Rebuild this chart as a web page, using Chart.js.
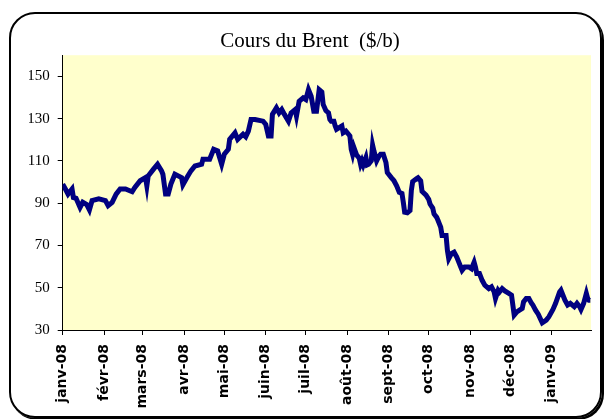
<!DOCTYPE html>
<html>
<head>
<meta charset="utf-8">
<script src="https://cdn.jsdelivr.net/npm/chart.js@4.4.1/dist/chart.umd.min.js"></script>
<style>
  body { margin: 0; background: #fff; }
  #frame {
    position: absolute; left: 9px; top: 12px; width: 593px; height: 406px;
    box-sizing: border-box; border: 2px solid #000; border-radius: 26px;
    box-shadow: 2px 2px 0 0 #000;
  }
  #chart { position: absolute; left: 0; top: 0; }
</style>
</head>
<body>
<div id="frame"></div>
<canvas id="chart" width="604" height="419"></canvas>
<script>
'use strict';

// days since 1 Jan 2008
const dayOffsets = [0, 2, 4, 7, 8, 10, 13, 15, 18, 20, 22, 27, 32, 34, 37, 40, 43, 47, 52, 54,
  58, 62, 63, 64, 68, 71, 74, 75, 77, 79, 81, 84, 89, 90, 93, 96, 99, 104, 105, 110,
  113, 116, 119, 121, 124, 125, 129, 131, 135, 137, 139, 141, 144, 150, 152, 154, 156, 157, 160, 162,
  164, 166, 169, 171, 174, 175, 177, 180, 182, 184, 186, 188, 190, 192, 194, 195, 197, 199, 200, 201,
  203, 204, 205, 207, 209, 210, 212, 214, 215, 216, 217, 218, 220, 222, 223, 224, 225, 227, 228, 229,
  231, 232, 233, 235, 236, 237, 238, 240, 242, 243, 246, 248, 250, 252, 254, 255, 256, 258, 260, 261,
  262, 265, 266, 268, 269, 272, 274, 275, 277, 278, 280, 281, 282, 283, 284, 287, 288, 289, 291, 293,
  295, 296, 298, 299, 301, 304, 306, 308, 309, 310, 312, 314, 316, 319, 321, 323, 324, 326, 327, 329,
  331, 334, 336, 338, 340, 342, 344, 345, 347, 349, 351, 352, 354, 356, 359, 362, 364, 367, 369, 372,
  373, 376, 378, 380, 383, 385, 387, 388, 390, 392, 393, 394, 395];

// Brent, $/b
const brentPrices = [99.0, 96.7, 94.3, 96.7, 92.7, 92.3, 88.0, 90.4, 89.3, 86.8, 91.2, 92.0, 91.2, 88.8, 90.4, 94.3, 96.7, 96.7, 95.4, 97.4,
  100.6, 102.1, 98.2, 102.9, 106.1, 108.4, 105.3, 103.7, 94.3, 94.3, 99.0, 103.7, 102.1, 98.7, 102.1, 105.3, 107.6, 108.4, 110.8, 110.8,
  115.5, 114.7, 108.4, 113.2, 115.5, 120.2, 123.3, 120.2, 122.6, 121.4, 124.1, 129.6, 129.6, 128.8, 127.3, 121.8, 121.8, 132.0, 135.1, 132.7,
  134.3, 132.0, 128.8, 132.7, 134.3, 131.2, 138.2, 139.8, 139.0, 143.7, 140.6, 133.5, 133.5, 143.7, 142.6, 136.7, 133.8, 132.7, 129.6, 128.8,
  128.8, 126.5, 124.9, 125.7, 126.5, 123.3, 124.1, 122.6, 121.8, 115.5, 113.2, 116.3, 112.8, 111.3, 108.4, 110.0, 108.1, 111.6, 108.1, 108.4,
  110.0, 117.5, 114.7, 110.0, 111.3, 112.4, 113.2, 113.2, 109.2, 104.5, 102.1, 100.6, 98.2, 95.1, 94.6, 90.4, 85.7, 85.4, 86.5, 96.0,
  100.2, 101.6, 102.0, 100.6, 95.6, 93.8, 91.8, 89.6, 87.7, 84.9, 83.3, 81.8, 80.2, 78.6, 74.7, 74.7, 67.6, 63.7, 66.1, 66.8,
  64.5, 62.9, 59.8, 58.2, 59.8, 59.8, 59.0, 62.1, 59.8, 56.7, 56.7, 53.5, 51.2, 49.6, 50.4, 48.0, 44.9, 48.8, 48.0, 49.6,
  48.5, 47.3, 46.5, 37.1, 38.6, 39.4, 40.2, 43.3, 44.9, 44.9, 42.6, 41.8, 39.4, 37.5, 33.4, 34.7, 36.3, 39.7, 42.6, 48.0,
  48.8, 44.1, 41.8, 42.6, 41.0, 42.6, 41.0, 39.7, 42.6, 47.3, 44.9, 44.1, 44.1];

// first day of each month
const monthStarts = [0, 31, 60, 91, 121, 152, 182, 213, 244, 274, 305, 335, 366];
const monthLabels = ['janv-08', 'févr-08', 'mars-08', 'avr-08', 'mai-08', 'juin-08', 'juil-08',
  'août-08', 'sept-08', 'oct-08', 'nov-08', 'déc-08', 'janv-09'];
const yTicks = [30, 50, 70, 90, 110, 130, 150];

let points = [];
for (let i = 0; i < dayOffsets.length; i++) {
  points.push({ x: dayOffsets[i], y: brentPrices[i] });
}

// yellow plot area
const plotBackground = {
  id: 'plotBackground',
  beforeDraw(chart) {
    const a = chart.chartArea;
    const ctx = chart.ctx;
    ctx.save();
    ctx.fillStyle = '#FFFFCC';
    ctx.fillRect(a.left, a.top, a.right - a.left, a.bottom - a.top);
    ctx.restore();
  }
};

const ctx = document.getElementById('chart').getContext('2d');
const myChart = new Chart(ctx, {
  type: 'line',
  data: {
    datasets: [{
      data: points,
      borderColor: '#000080',
      borderWidth: 5,
      pointRadius: 0,
      tension: 0,
      fill: false
    }]
  },
  options: {
    responsive: false,
    animation: false,
    devicePixelRatio: 1,
    layout: { padding: { left: 29, right: 13, top: 0, bottom: 0 } },
    plugins: {
      legend: { display: false },
      tooltip: { enabled: false },
      title: {
        display: true,
        text: 'Cours du Brent  ($/b)',
        color: '#000',
        font: { family: 'Liberation Serif', size: 21, weight: 'normal' },
        padding: { top: 29, bottom: 1 }
      }
    },
    scales: {
      x: {
        type: 'linear',
        min: 0,
        max: 395.5,
        afterBuildTicks: function (scale) {
          scale.ticks = monthStarts.map(v => ({ value: v }));
        },
        afterFit: function (scale) {
          scale.height = 89;
        },
        ticks: {
          autoSkip: false,
          minRotation: 90,
          maxRotation: 90,
          padding: 9,
          color: '#000',
          font: { family: 'DejaVu Sans', size: 14, weight: 'bold' },
          callback: function (value, index) {
            return monthLabels[index];
          }
        },
        grid: { drawOnChartArea: false, tickLength: 5, color: '#000' },
        border: { color: '#000', width: 1 }
      },
      y: {
        min: 30,
        max: 160,
        afterBuildTicks: function (scale) {
          scale.ticks = yTicks.map(v => ({ value: v }));
        },
        afterFit: function (scale) {
          scale.width = 33.7;
        },
        ticks: {
          padding: 8,
          color: '#000',
          font: { family: 'Liberation Serif', size: 15 }
        },
        grid: { drawOnChartArea: false, tickLength: 5, color: '#000' },
        border: { color: '#000', width: 1 }
      }
    }
  },
  plugins: [plotBackground]
});
</script>
</body>
</html>
